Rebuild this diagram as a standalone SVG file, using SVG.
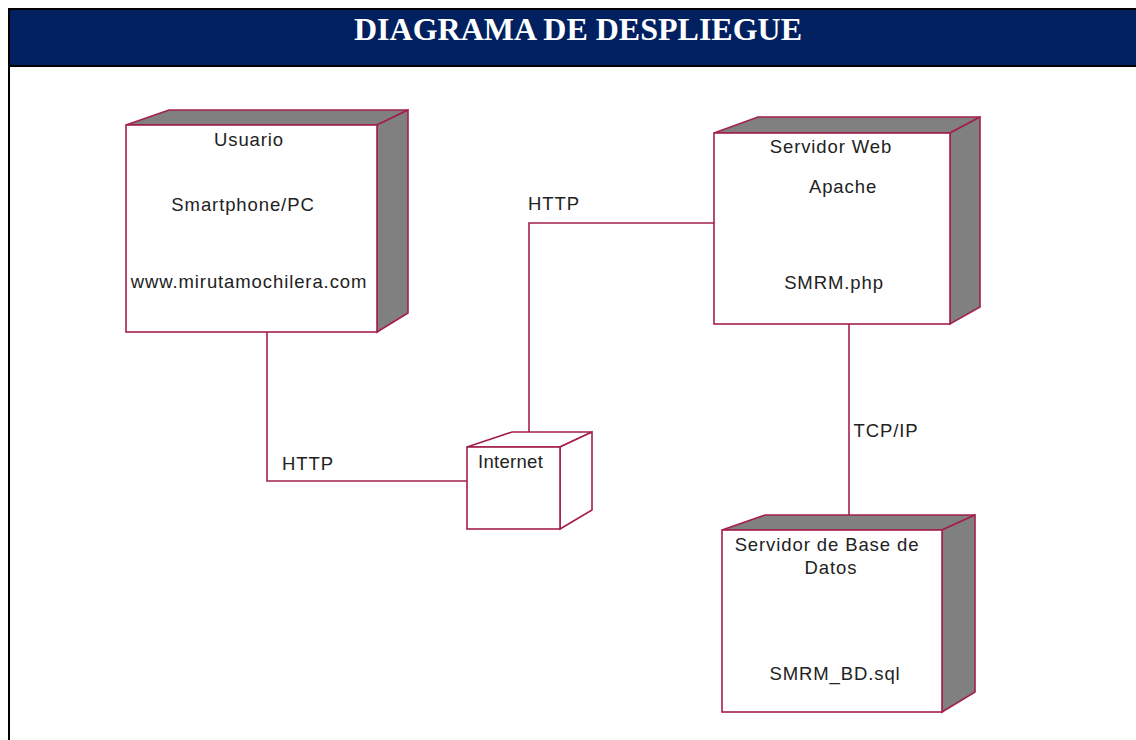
<svg xmlns="http://www.w3.org/2000/svg" width="1136" height="740" viewBox="0 0 1136 740">
<style>
.frame{fill:none;stroke:#000;stroke-width:2}
.face{fill:#fff;stroke:#A3204C;stroke-width:1.6;stroke-linejoin:miter}
.side{fill:#808080;stroke:#A3204C;stroke-width:1.6}
.side2{fill:#fff;stroke:#A3204C;stroke-width:1.6}
.conn{fill:none;stroke:#A3204C;stroke-width:1.6}
.t{font-family:"Liberation Sans",Arial,sans-serif;font-size:18.5px;fill:#222;text-anchor:middle;letter-spacing:0.9px}
.title{font-family:"Liberation Serif","Times New Roman",serif;font-weight:bold;font-size:32px;fill:#fff;text-anchor:middle}
</style>
<rect x="0" y="0" width="1136" height="740" fill="#fff"/>
<rect x="9" y="9" width="1140" height="57" fill="#002060" stroke="#000" stroke-width="2"/>
<line x1="9" y1="66" x2="9" y2="740" class="frame"/>
<text class="title" x="578" y="40">DIAGRAMA DE DESPLIEGUE</text>

<g id="connectors">
<polyline class="conn" points="267,332 267,481 467,481"/>
<polyline class="conn" points="529,440 529,223 714,223"/>
<line class="conn" x1="849" y1="324" x2="849" y2="522"/>
<text class="t" x="308" y="470">HTTP</text>
<text class="t" x="554" y="210">HTTP</text>
<text class="t" x="886" y="437">TCP/IP</text>
</g>

<g id="usuario">
<polygon class="side" points="126,125 169,110 408,110 377,125"/>
<polygon class="side" points="377,125 408,110 408,313 377,332"/>
<rect class="face" x="126" y="125" width="251" height="207"/>
<text class="t" x="249" y="146">Usuario</text>
<text class="t" x="243" y="211">Smartphone/PC</text>
<text class="t" x="249" y="288">www.mirutamochilera.com</text>
</g>

<g id="servidor-web">
<polygon class="side" points="714,133 758,117 980,117 950,133"/>
<polygon class="side" points="950,133 980,117 980,307 950,324"/>
<rect class="face" x="714" y="133" width="236" height="191"/>
<text class="t" x="831" y="153">Servidor Web</text>
<text class="t" x="843" y="193">Apache</text>
<text class="t" x="834" y="289">SMRM.php</text>
</g>

<g id="internet">
<polygon class="side2" points="467,447 512,432 592,432 560,447"/>
<polygon class="side2" points="560,447 592,432 592,510 560,529"/>
<rect class="face" x="467" y="447" width="93" height="82"/>
<text class="t" x="478" y="468" style="text-anchor:start;letter-spacing:0.3px">Internet</text>
</g>

<g id="servidor-bd">
<polygon class="side" points="722,530 765,515 975,515 942,530"/>
<polygon class="side" points="942,530 975,515 975,692 942,712"/>
<rect class="face" x="722" y="530" width="220" height="182"/>
<text class="t" x="827" y="551">Servidor de Base de</text>
<text class="t" x="831" y="574">Datos</text>
<text class="t" x="835" y="680">SMRM_BD.sql</text>
</g>
</svg>
